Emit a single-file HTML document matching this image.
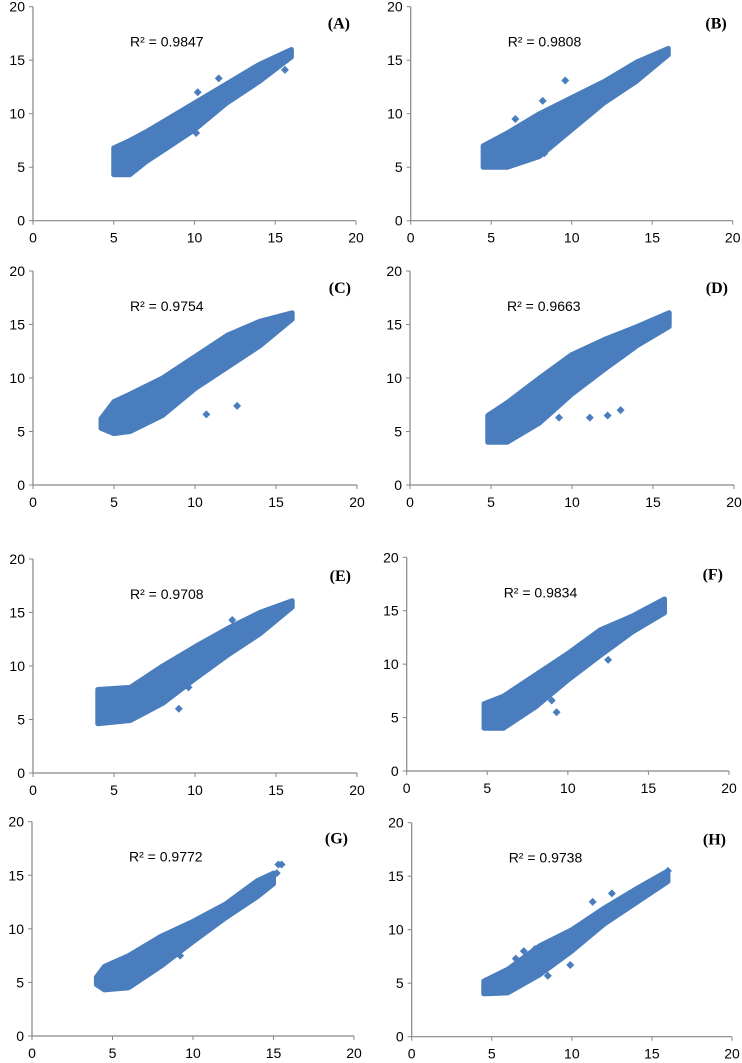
<!DOCTYPE html>
<html><head><meta charset="utf-8">
<style>
html,body{margin:0;padding:0;background:#fff;}
svg{display:block;}
.tk{font-family:"Liberation Sans",sans-serif;font-size:14px;fill:#000;}
.r2{font-family:"Liberation Sans",sans-serif;font-size:14px;fill:#000;}
.pl{font-family:"Liberation Serif",serif;font-size:16px;font-weight:bold;fill:#000;}
</style></head>
<body>
<svg id="fig" width="742" height="1063" viewBox="0 0 742 1063" xmlns="http://www.w3.org/2000/svg"></svg>
<script>
// ---- data (per-panel point-cloud envelopes and outliers) ----
const panelLabels = ["(A)","(B)","(C)","(D)","(E)","(F)","(G)","(H)"];
const r2Values = ["0.9847","0.9808","0.9754","0.9663","0.9708","0.9834","0.9772","0.9738"];
const tickValues = [0,5,10,15,20];

const bandX_A = [5,6,7,8,10,12,14,16];
const bandLo_A = [4.3,4.3,5.5,6.5,8.5,11,13,15.3];
const bandHi_A = [6.8,7.5,8.3,9.2,11,12.8,14.6,16];
const outX_A = [11.5,10.2,15.6,10.1];
const outY_A = [13.3,12,14.1,8.2];

const bandX_B = [4.5,6,8,10,12,14,16];
const bandLo_B = [5,5,6,8.5,11,13,15.5];
const bandHi_B = [7,8.2,10,11.5,13,14.8,16.1];
const outX_B = [9.6,8.2,6.5,8.3];
const outY_B = [13.1,11.2,9.5,6.3];

const bandX_C = [4.2,5,6,8,10,12,14,16];
const bandLo_C = [5.3,4.8,5,6.5,9,11,13,15.5];
const bandHi_C = [6.2,7.8,8.5,10,12,14,15.3,16.1];
const outX_C = [10.7,12.6];
const outY_C = [6.6,7.4];

const bandX_D = [4.8,6,8,10,12,14,16];
const bandLo_D = [4,4,5.8,8.5,10.8,13,14.8];
const bandHi_D = [6.5,7.7,10,12.2,13.6,14.8,16.1];
const outX_D = [11.1,12.2,13,9.2,11];
const outY_D = [6.3,6.5,7,6.3,12.5];

const bandX_E = [4,6,8,10,12,14,16];
const bandLo_E = [4.6,4.9,6.5,8.8,11,13,15.5];
const bandHi_E = [7.8,8,10,11.8,13.5,15,16.1];
const outX_E = [9,12.3,9.6];
const outY_E = [6,14.3,8];

const bandX_F = [4.8,6,8,10,12,14,16];
const bandLo_F = [4,4,6,8.5,10.8,13,14.8];
const bandHi_F = [6.3,7,9,11,13.2,14.5,16.1];
const outX_F = [9.3,9,12.5];
const outY_F = [5.5,6.6,10.4];

const bandX_G = [4,4.5,6,8,10,12,14,15];
const bandLo_G = [4.8,4.3,4.5,6.5,8.8,11,13,14.2];
const bandHi_G = [5.5,6.5,7.5,9.3,10.7,12.3,14.5,15.2];
const outX_G = [15.2,15.3,15.5,9.2];
const outY_G = [15.2,16,16,7.5];

const bandX_H = [4.5,6,8,10,12,14,16];
const bandLo_H = [4,4.1,5.8,8,10.5,12.5,14.5];
const bandHi_H = [5.2,6.3,8.5,10,12,13.8,15.5];
const outX_H = [11.3,12.5,6.5,7,7.7,8.5,9.9,16];
const outY_H = [12.6,13.4,7.3,8,8.2,5.7,6.7,15.5];

const bandXs = [bandX_A,bandX_B,bandX_C,bandX_D,bandX_E,bandX_F,bandX_G,bandX_H];
const bandLos = [bandLo_A,bandLo_B,bandLo_C,bandLo_D,bandLo_E,bandLo_F,bandLo_G,bandLo_H];
const bandHis = [bandHi_A,bandHi_B,bandHi_C,bandHi_D,bandHi_E,bandHi_F,bandHi_G,bandHi_H];
const outXs = [outX_A,outX_B,outX_C,outX_D,outX_E,outX_F,outX_G,outX_H];
const outYs = [outY_A,outY_B,outY_C,outY_D,outY_E,outY_F,outY_G,outY_H];

// ---- layout ----
const frames = [
 {x0:33,x1:356,y0:220.7,y1:6.7},{x0:410.7,x1:732.7,y0:220.7,y1:6.7},
 {x0:33,x1:357,y0:485,y1:271},{x0:410,x1:734,y0:485,y1:271},
 {x0:33,x1:357,y0:773,y1:559},{x0:406.7,x1:729,y0:771,y1:557.3},
 {x0:32,x1:354,y0:1036,y1:821.7},{x0:411.7,x1:732,y0:1036.7,y1:822.7}
];
const NS="http://www.w3.org/2000/svg";
const svg=document.getElementById('fig');
const COL="#4a7dbd";
function mk(tag,attrs,parent){const e=document.createElementNS(NS,tag);for(const k in attrs)e.setAttribute(k,attrs[k]);parent.appendChild(e);return e;}

frames.forEach((f,i)=>{
  const sx=v=>f.x0+(f.x1-f.x0)*v/20;
  const sy=v=>f.y0+(f.y1-f.y0)*v/20;
  const g=mk('g',{},svg);
  
  
  const ya=mk('line',{x1:f.x0,y1:f.y0,x2:f.x0,y2:f.y1,stroke:'#868686','stroke-width':1.2},g);
  
  
  const xa=mk('line',{x1:f.x0,y1:f.y0,x2:f.x1,y2:f.y0,stroke:'#868686','stroke-width':1.2},g);
  
  
  tickValues.forEach(t=>{
    mk('line',{x1:f.x0-4,y1:sy(t),x2:f.x0,y2:sy(t),stroke:'#868686','stroke-width':1},g);
    mk('line',{x1:sx(t),y1:f.y0,x2:sx(t),y2:f.y0+4,stroke:'#868686','stroke-width':1},g);
    const yl=mk('text',{x:f.x0-8,y:sy(t)+5,'text-anchor':'end',class:'tk'},g);
    yl.textContent=t;
    
    
    const xl=mk('text',{x:sx(t),y:f.y0+22,'text-anchor':'middle',class:'tk'},g);
    xl.textContent=t;
    
    
  });
  const bx=bandXs[i],lo=bandLos[i],hi=bandHis[i];
  let d='M'+sx(bx[0])+','+sy(lo[0]);
  for(let k=1;k<bx.length;k++)d+=' L'+sx(bx[k])+','+sy(lo[k]);
  for(let k=bx.length-1;k>=0;k--)d+=' L'+sx(bx[k])+','+sy(hi[k]);
  d+=' Z';
  const band=mk('path',{d:d,fill:COL,stroke:COL,'stroke-width':5,'stroke-linejoin':'round'},g);
  
  
  outXs[i].forEach((ox,k)=>{
    const cx=sx(ox),cy=sy(outYs[i][k]);
    const p=mk('path',{d:`M${cx},${cy-4} L${cx+4},${cy} L${cx},${cy+4} L${cx-4},${cy} Z`,fill:COL},g);
    
    
  });
  const r=mk('text',{x:f.x0+97,y:f.y1+40,class:'r2'},g);
  r.textContent='R² = '+r2Values[i];
  
  
  const pl=mk('text',{x:f.x1-6,y:f.y1+22,'text-anchor':'end',class:'pl'},g);
  pl.textContent=panelLabels[i];
  
  
});
</script>
</body></html>
